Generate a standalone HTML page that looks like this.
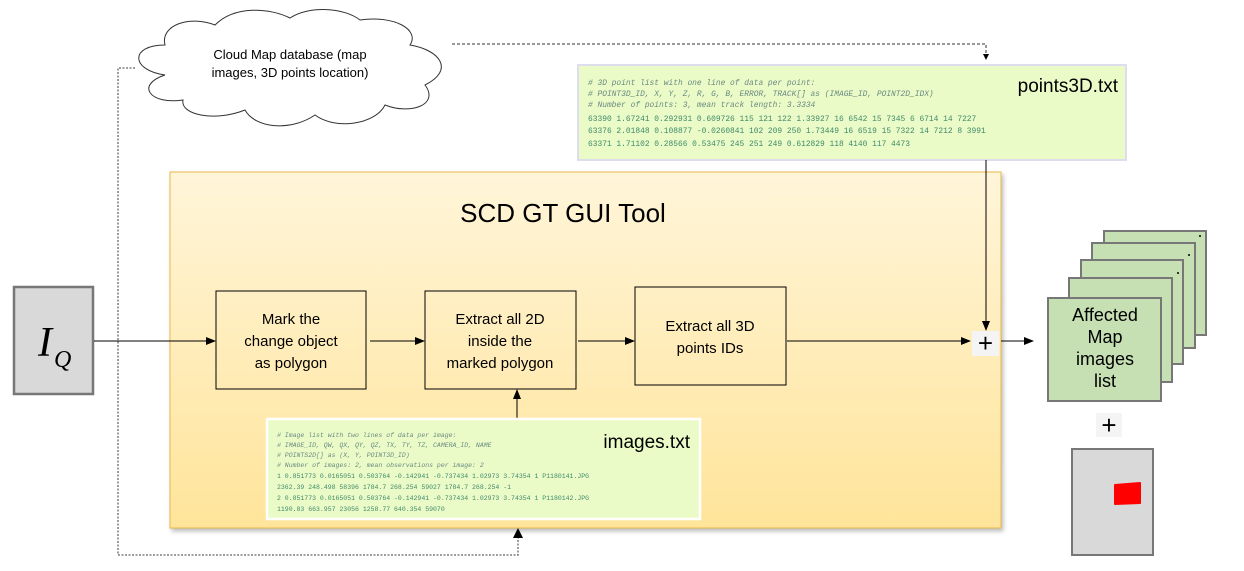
<!DOCTYPE html>
<html><head><meta charset="utf-8"><style>
body{margin:0;background:#fff;}
svg{display:block;font-family:"Liberation Sans",sans-serif;}
.code{font-family:"Liberation Mono",monospace;fill:#3f8a6a;}
.p{font-size:7.9px;}
.i{font-size:6.5px;}
.cm{font-style:italic;fill:#6a8a80;}
</style></head><body>
<svg width="1244" height="571" viewBox="0 0 1244 571" xmlns="http://www.w3.org/2000/svg">
<defs>
<linearGradient id="yg" x1="0" y1="0" x2="0" y2="1"><stop offset="0" stop-color="#fff5d9"/><stop offset="1" stop-color="#ffe49a"/></linearGradient>
<marker id="ah" markerWidth="10" markerHeight="8" refX="9" refY="4" orient="auto" markerUnits="userSpaceOnUse"><path d="M0,0L10,4L0,8z" fill="#000"/></marker>
<filter id="sh"><feDropShadow dx="2" dy="3" stdDeviation="2" flood-color="#000" flood-opacity="0.25"/></filter>
</defs>
<rect x="170" y="172" width="831" height="356" fill="url(#yg)" stroke="#e8b84a" stroke-width="1" filter="url(#sh)"/>
<text x="563" y="222" font-size="26" text-anchor="middle">SCD GT GUI Tool</text>
<path d="M165,75 C130,70 130,45 165,45 C160,25 190,15 215,25 C235,5 270,8 290,18 C310,5 345,8 360,20 C395,15 420,30 410,45 C440,50 455,70 425,85 C440,105 410,115 385,105 C375,125 335,130 315,115 C290,132 255,128 245,110 C215,122 180,115 183,100 C150,105 135,85 165,75 Z" fill="#fff" stroke="#333" stroke-width="1"/>
<text x="290" y="59" font-size="13" text-anchor="middle">Cloud Map database (map</text>
<text x="290" y="77" font-size="13" text-anchor="middle">images, 3D points location)</text>
<path d="M452,44 H986 V58" fill="none" stroke="#333" stroke-dasharray="3,2"/>
<path d="M983,54 L986,60 L989,54z" fill="#000"/>
<path d="M135,68 H118 V555 H518 V532" fill="none" stroke="#666" stroke-dasharray="2,1.5" stroke-width="1.3"/>
<path d="M513,538 L518,528 L523,538z" fill="#000"/>
<rect x="578" y="65" width="548" height="95" fill="#ebfbc8" stroke="#dde" stroke-width="2"/>
<text x="1118" y="92" font-size="19" text-anchor="end">points3D.txt</text>
<text class="code p" x="588" y="85"><tspan class="cm"># 3D point list with one line of data per point:</tspan></text>
<text class="code p" x="588" y="96"><tspan class="cm">#   POINT3D_ID, X, Y, Z, R, G, B, ERROR, TRACK[] as (IMAGE_ID, POINT2D_IDX)</tspan></text>
<text class="code p" x="588" y="107"><tspan class="cm"># Number of points: 3, mean track length: 3.3334</tspan></text>
<text class="code p" x="588" y="121">63390 1.67241 0.292931 0.609726 115 121 122 1.33927 16 6542 15 7345 6 6714 14 7227</text>
<text class="code p" x="588" y="133">63376 2.01848 0.108877 -0.0260841 102 209 250 1.73449 16 6519 15 7322 14 7212 8 3991</text>
<text class="code p" x="588" y="146">63371 1.71102 0.28566 0.53475 245 251 249 0.612829 118 4140 117 4473</text>
<rect x="14" y="287" width="79" height="107" fill="#d9d9d9" stroke="#777" stroke-width="2.5"/>
<text x="38" y="356" font-family="Liberation Serif,serif" font-style="italic" font-size="42">I</text>
<text x="54" y="367" font-family="Liberation Serif,serif" font-style="italic" font-size="24">Q</text>
<rect x="216" y="291" width="150" height="98" fill="none" stroke="#000"/>
<text x="291" y="324" font-size="15" text-anchor="middle">Mark the</text>
<text x="291" y="346" font-size="15" text-anchor="middle">change object</text>
<text x="291" y="368" font-size="15" text-anchor="middle">as polygon</text>
<rect x="425" y="291" width="151" height="98" fill="none" stroke="#000"/>
<text x="500" y="324" font-size="15" text-anchor="middle">Extract all 2D</text>
<text x="500" y="346" font-size="15" text-anchor="middle">inside the</text>
<text x="500" y="368" font-size="15" text-anchor="middle">marked polygon</text>
<rect x="635" y="287" width="151" height="98" fill="none" stroke="#000"/>
<text x="710" y="331" font-size="15" text-anchor="middle">Extract all 3D</text>
<text x="710" y="353" font-size="15" text-anchor="middle">points IDs</text>
<line x1="94" y1="341" x2="215" y2="341" stroke="#000" marker-end="url(#ah)"/>
<line x1="370" y1="341" x2="424" y2="341" stroke="#000" marker-end="url(#ah)"/>
<line x1="578" y1="341" x2="634" y2="341" stroke="#000" marker-end="url(#ah)"/>
<line x1="787" y1="341" x2="970" y2="341" stroke="#000" marker-end="url(#ah)"/>
<line x1="986" y1="160" x2="986" y2="330" stroke="#000" marker-end="url(#ah)"/>
<line x1="517" y1="419" x2="517" y2="390" stroke="#000" marker-end="url(#ah)"/>
<line x1="1001" y1="341" x2="1033" y2="341" stroke="#000" marker-end="url(#ah)"/>
<rect x="972" y="331" width="27" height="25" fill="#f4f4f4"/>
<text x="985.5" y="352" font-size="26" text-anchor="middle">+</text>
<rect x="267" y="419" width="433" height="100" fill="#ebfbc8" stroke="#fff" stroke-width="2.5"/>
<text x="690" y="448" font-size="19" text-anchor="end">images.txt</text>
<text class="code i" x="277" y="437"><tspan class="cm"># Image list with two lines of data per image:</tspan></text>
<text class="code i" x="277" y="447"><tspan class="cm">#   IMAGE_ID, QW, QX, QY, QZ, TX, TY, TZ, CAMERA_ID, NAME</tspan></text>
<text class="code i" x="277" y="457"><tspan class="cm">#   POINTS2D[] as (X, Y, POINT3D_ID)</tspan></text>
<text class="code i" x="277" y="467"><tspan class="cm"># Number of images: 2, mean observations per image: 2</tspan></text>
<text class="code i" x="277" y="478">1 0.851773 0.0165051 0.503764 -0.142941 -0.737434 1.02973 3.74354 1 P1180141.JPG</text>
<text class="code i" x="277" y="489">2362.39 248.498 58396 1784.7 268.254 59027 1784.7 268.254 -1</text>
<text class="code i" x="277" y="500">2 0.851773 0.0165051 0.503764 -0.142941 -0.737434 1.02973 3.74354 1 P1180142.JPG</text>
<text class="code i" x="277" y="511">1190.83 663.957 23056 1258.77 640.354 59070</text>
<g fill="#c6e0b4" stroke="#777" stroke-width="2">
<rect x="1104" y="231" width="102" height="104"/>
<rect x="1092" y="243" width="103" height="105"/>
<rect x="1081" y="260" width="102" height="104"/>
<rect x="1069" y="278" width="103" height="104"/>
<rect x="1048" y="298" width="113" height="103"/>
</g>
<circle cx="1200" cy="236" r="1" fill="#000"/><circle cx="1189" cy="255" r="1" fill="#000"/><circle cx="1178" cy="273" r="1" fill="#000"/>
<text x="1105" y="321" font-size="18" text-anchor="middle">Affected</text>
<text x="1105" y="343" font-size="18" text-anchor="middle">Map</text>
<text x="1105" y="365" font-size="18" text-anchor="middle">images</text>
<text x="1105" y="387" font-size="18" text-anchor="middle">list</text>
<rect x="1096" y="413" width="26" height="24" fill="#f4f4f4"/>
<text x="1109" y="434" font-size="26" text-anchor="middle">+</text>
<rect x="1072" y="449" width="81" height="106" fill="#d9d9d9" stroke="#777" stroke-width="2"/>
<path d="M1115,485 L1140,483 L1140,503 L1115,504 Z" fill="#f00" stroke="#f00" stroke-linejoin="round" stroke-width="2"/>
</svg>
</body></html>
